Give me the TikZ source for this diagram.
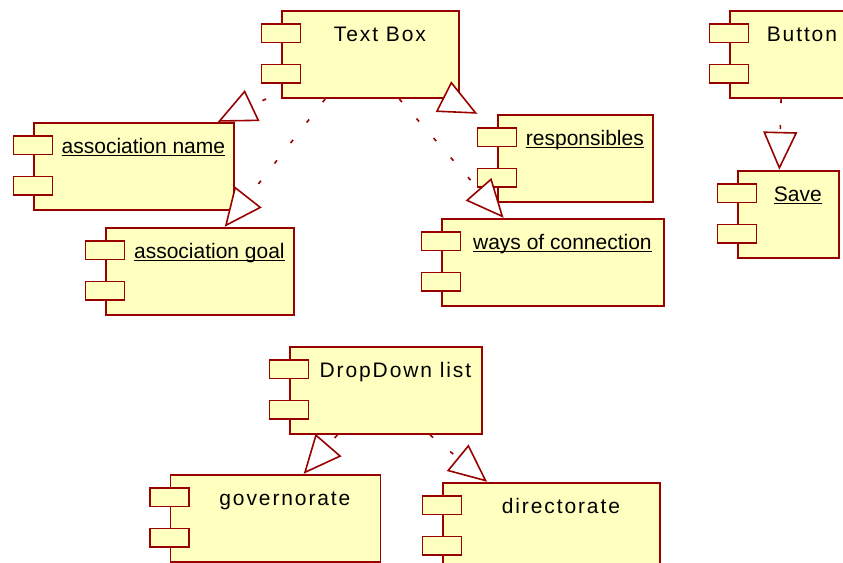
\documentclass[tikz,border=0pt]{standalone}
\usepackage{fontspec}
\setmainfont{Liberation Sans}
\newfontfamily\spacedfont[LetterSpace=9]{Liberation Sans}
\usetikzlibrary{arrows.meta,fit}

\definecolor{compline}{RGB}{153,0,0}
\definecolor{compfill}{RGB}{255,255,192}

% underline at a fixed depth, through the descenders
\newcommand\undername[1]{\setbox0\hbox{#1}\rlap{\rule[-3.2pt]{\wd0}{1.4pt}}\box0}

\tikzset{
  body/.style={draw=compline, fill=compfill, line width=1.8pt, anchor=north west, inner sep=0pt, minimum height=87pt},
  port/.style={draw=compline, fill=compfill, line width=1.8pt, inner sep=0pt, minimum width=39pt, minimum height=18.5pt},
  title/.style={anchor=base, inner sep=0pt, font=\spacedfont\fontsize{21pt}{25pt}\selectfont},
  instance/.style={anchor=base, inner sep=0pt, font=\fontsize{21pt}{25pt}\selectfont},
  realize/.style={draw=compline, line width=1.6pt, dash pattern=on 4pt off 22pt, -{Triangle[fill=white, length=38pt, width=34pt]}},
  pics/component/.style n args={3}{code={
    \node[body, minimum width=#1pt] (-body) at (0,0) {};
    \node[port] (-p1) at ([yshift=-23.25pt]-body.north west) {};
    \node[port] (-p2) at ([yshift=-63.75pt]-body.north west) {};
    \node[#2] (-name) at ([xshift=9.5pt, yshift=-31pt]-body.north) {#3};
    \node[fit=(-p1)(-p2)(-body), inner sep=0pt] (-all) {};
  }}
}

\begin{document}
\begin{tikzpicture}[x=1pt,y=-1pt]
\path[use as bounding box] (0,0) rectangle (843,562);
\clip (0,0) rectangle (843,562);

% components
\pic (textbox) at (281,10) {component={177}{title}{Text Box}};
\pic (assocname) at (33,122) {component={200}{instance}{\undername{association name}}};
\pic (assocgoal) at (105,227) {component={188}{instance}{\undername{association goal}}};
\pic (responsibles) at (497,114) {component={155}{instance}{\undername{responsibles}}};
\pic (waysconn) at (441,218) {component={222}{instance}{\undername{ways of connection}}};
\pic (button) at (729,10) {component={125}{title}{Button}};
\pic (save) at (737,170) {component={101}{instance}{\undername{Save}}};
\pic (dropdown) at (289,346) {component={192}{title}{DropDown list}};
\pic (governorate) at (169.5,474) {component={210}{title}{governorate}};
\pic (directorate) at (442,482) {component={217}{title}{directorate}};

% realizations
\draw[realize] (textbox-all) -- (assocname-all);
\draw[realize] (textbox-all) -- (assocgoal-all);
\draw[realize] (textbox-all) -- (responsibles-all);
\draw[realize] (textbox-all) -- (waysconn-all);
\draw[realize] (button-all) -- (save-all);
\draw[realize] (dropdown-all) -- (governorate-all);
\draw[realize] (dropdown-all) -- (directorate-all);
\end{tikzpicture}
\end{document}
